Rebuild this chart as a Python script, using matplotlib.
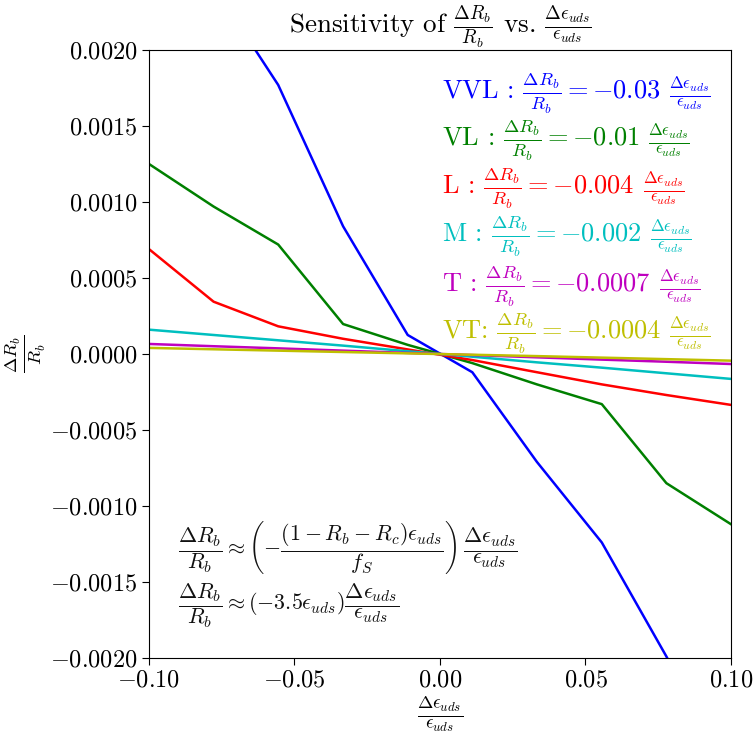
import numpy as np
import matplotlib
matplotlib.use("Agg")
import matplotlib.pyplot as plt

plt.rcParams['font.family'] = 'serif'
plt.rcParams['font.serif'] = ['cmr10']
plt.rcParams['mathtext.fontset'] = 'cm'
plt.rcParams['axes.formatter.use_mathtext'] = True
plt.rcParams['axes.unicode_minus'] = True

x_vals = [-0.1, -0.0778, -0.0556, -0.0333, -0.0111, 0.0111, 0.0333, 0.0556, 0.0778, 0.1]

vvl = [0.0030, 0.00242, 0.00177, 0.00084, 0.000125, -0.00012, -0.00071, -0.00124, -0.00199, -0.0028]
vl = [0.00125, 0.00097, 0.00072, 0.000197, 0.00006, -0.00006, -0.0002, -0.00033, -0.00085, -0.00112]
low = [0.00069, 0.000344, 0.000182, 0.0001, 0.00003, -0.00004, -0.00012, -0.0002, -0.00027, -0.000335]
med = [0.00016, 0.000125, 0.00009, 0.000055, 0.000018, -0.000018, -0.000055, -0.00009, -0.000127, -0.000164]
tight = [0.000066, 0.000051, 0.000037, 0.000022, 0.000007, -0.000007, -0.000022, -0.000037, -0.000051, -0.000066]
vtight = [0.000040, 0.000031, 0.000022, 0.000013, 0.000004, -0.000005, -0.000014, -0.000024, -0.000034, -0.000044]

series = [vvl, vl, low, med, tight, vtight]
colors = ['b', 'g', 'r', 'c', 'm', 'y']
names = ['VVL : ', 'VL : ', 'L : ', 'M : ', 'T : ', 'VT: ']
slopes = ['-0.03', '-0.01', '-0.004', '-0.002', '-0.0007', '-0.0004']

fig = plt.figure(figsize=(7.54, 7.37), dpi=100)
ax = fig.add_axes([0.1976, 0.1072, 0.7719, 0.8250])

for ys, c in zip(series, colors):
    ax.plot(x_vals, ys, color=c, lw=1.8)

ax.set_xlim(-0.1, 0.1)
ax.set_ylim(-0.002, 0.002)
ax.set_xticks([-0.1, -0.05, 0.0, 0.05, 0.1])
ax.set_yticks(np.arange(-0.002, 0.00201, 0.0005))
ax.xaxis.set_major_formatter(matplotlib.ticker.FuncFormatter(lambda v, p: r'$\mathdefault{%s}$' % ('%.2f' % v).replace('-', '\u2212')))
ax.yaxis.set_major_formatter(matplotlib.ticker.FuncFormatter(lambda v, p: r'$\mathdefault{%s}$' % ('%.4f' % (0.0 if abs(v) < 1e-12 else v)).replace('-', '\u2212')))
ax.tick_params(labelsize=17.5, length=5)

ax.set_title(r'Sensitivity of $\frac{\Delta R_b}{R_b}$ vs. $\frac{\Delta \epsilon_{uds}}{\epsilon_{uds}}$', fontsize=19.5, pad=6)
ax.set_xlabel(r'$\frac{\Delta \epsilon_{uds}}{\epsilon_{uds}}$', fontsize=19, labelpad=1)
ax.set_ylabel(r'$\frac{\Delta R_b}{R_b}$', fontsize=19, labelpad=1)

ys_pos = [0.929, 0.852, 0.7725, 0.693, 0.611, 0.534]
for n, s, c, yp in zip(names, slopes, colors, ys_pos):
    t1 = ax.text(0.503, yp, n + r'$\frac{\Delta R_b}{R_b} = %s$' % s, color=c,
                 fontsize=19, transform=ax.transAxes, ha='left', va='center')
    ax.annotate(r'$\frac{\Delta \epsilon_{uds}}{\epsilon_{uds}}$', xy=(1, 0.5), xycoords=t1,
                xytext=(6, 0), textcoords='offset points', color=c, fontsize=17,
                ha='left', va='center')

ax.text(0.05, 0.182, r'$\dfrac{\Delta R_b}{R_b} \approx \left(-\dfrac{(1-R_b-R_c)\epsilon_{uds}}{f_S}\right)\,\dfrac{\Delta\epsilon_{uds}}{\epsilon_{uds}}$',
        transform=ax.transAxes, fontsize=15.8, ha='left', va='center', color='#111111')
ax.text(0.05, 0.086, r'$\dfrac{\Delta R_b}{R_b} \approx (-3.5\epsilon_{uds})\dfrac{\Delta\epsilon_{uds}}{\epsilon_{uds}}$',
        transform=ax.transAxes, fontsize=15.8, ha='left', va='center', color='#111111')

fig.savefig('out.png', dpi=100)
